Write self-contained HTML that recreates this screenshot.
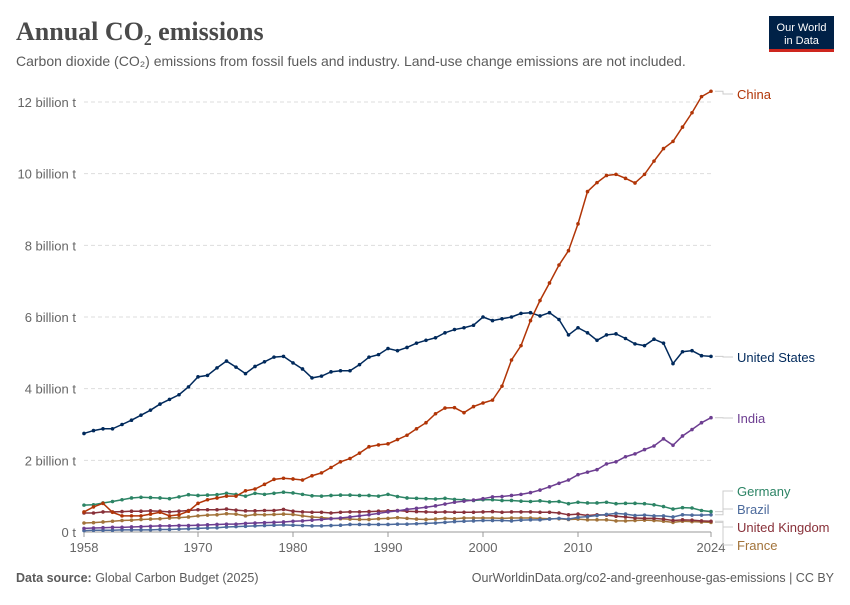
<!DOCTYPE html>
<html><head><meta charset="utf-8"><style>
body{margin:0;background:#fff;width:850px;height:600px;overflow:hidden;font-family:"Liberation Sans",sans-serif}
</style></head><body>
<svg id="chart" width="850" height="600" xmlns="http://www.w3.org/2000/svg">
<text x="16" y="40" font-family="Liberation Serif,serif" font-size="26" font-weight="bold" fill="#4a4a4a">Annual CO₂ emissions</text>
<text x="16" y="66" font-size="14" fill="#5b5b5b">Carbon dioxide (CO₂) emissions from fossil fuels and industry. Land-use change emissions are not included.</text>
<g>
<rect x="769" y="16" width="65" height="36" fill="#002147"/>
<rect x="769" y="49" width="65" height="3" fill="#ce261e"/>
<text x="801.5" y="31" text-anchor="middle" font-size="11" fill="#fff">Our World</text>
<text x="801.5" y="44" text-anchor="middle" font-size="11" fill="#fff">in Data</text>
</g>
<g id="grid"></g><g id="lines"></g><g id="labels"></g>
<text x="16" y="582" font-size="12.5" fill="#5b5b5b"><tspan font-weight="bold">Data source:</tspan> Global Carbon Budget (2025)</text>
<text x="834" y="582" text-anchor="end" font-size="12.5" fill="#5b5b5b">OurWorldinData.org/co2-and-greenhouse-gas-emissions | CC BY</text>
</svg>
<script>
const startYear=1958,endYear=2024;
const yTicks=[0,2,4,6,8,10,12];
const yTickLabels=["0 t","2 billion t","4 billion t","6 billion t","8 billion t","10 billion t","12 billion t"];
const xTicks=[1958,1970,1980,1990,2000,2010,2024];
const china=[.56,.70,.80,.55,.45,.45,.45,.50,.55,.45,.48,.58,.80,.90,.95,1.00,1.00,1.15,1.20,1.33,1.47,1.50,1.48,1.45,1.57,1.65,1.80,1.96,2.05,2.20,2.38,2.43,2.46,2.58,2.70,2.88,3.05,3.30,3.46,3.47,3.33,3.50,3.60,3.68,4.07,4.80,5.20,5.90,6.46,6.95,7.45,7.85,8.60,9.50,9.75,9.95,9.98,9.87,9.74,9.98,10.35,10.70,10.90,11.30,11.70,12.15,12.30];
const us=[2.75,2.83,2.88,2.88,3.00,3.12,3.26,3.40,3.57,3.70,3.83,4.05,4.33,4.37,4.58,4.77,4.60,4.42,4.62,4.75,4.88,4.90,4.72,4.55,4.30,4.35,4.47,4.50,4.50,4.67,4.88,4.95,5.12,5.06,5.15,5.27,5.35,5.42,5.56,5.65,5.70,5.77,6.00,5.90,5.95,6.00,6.10,6.12,6.03,6.12,5.93,5.50,5.70,5.56,5.35,5.50,5.53,5.40,5.25,5.20,5.38,5.27,4.70,5.03,5.06,4.92,4.90];
const india=[.10,.11,.12,.13,.13,.14,.15,.16,.17,.17,.18,.18,.19,.20,.21,.22,.22,.24,.25,.26,.27,.28,.30,.31,.33,.35,.37,.39,.42,.45,.48,.52,.56,.59,.63,.66,.69,.73,.78,.83,.86,.89,.93,.98,.99,1.02,1.05,1.10,1.17,1.26,1.36,1.45,1.60,1.67,1.74,1.90,1.96,2.10,2.18,2.30,2.40,2.60,2.42,2.68,2.86,3.05,3.19];
const germany=[.75,.76,.81,.85,.90,.95,.97,.96,.95,.93,.98,1.04,1.02,1.03,1.04,1.08,1.05,1.00,1.08,1.05,1.08,1.11,1.09,1.05,1.01,1.00,1.02,1.03,1.03,1.02,1.02,1.00,1.05,.99,.95,.94,.93,.92,.94,.91,.90,.88,.90,.90,.88,.88,.86,.85,.87,.84,.85,.79,.83,.81,.81,.83,.79,.80,.80,.79,.76,.71,.64,.68,.67,.60,.57];
const brazil=[.04,.05,.05,.05,.06,.06,.06,.06,.07,.07,.08,.09,.10,.11,.12,.14,.15,.16,.17,.18,.19,.20,.19,.18,.17,.17,.18,.19,.21,.21,.21,.21,.21,.22,.22,.23,.24,.25,.27,.29,.30,.31,.32,.32,.32,.31,.33,.34,.34,.36,.38,.36,.41,.43,.46,.49,.52,.50,.46,.47,.45,.45,.42,.48,.47,.47,.48];
const uk=[.53,.53,.56,.56,.57,.58,.58,.59,.58,.56,.58,.60,.62,.62,.62,.64,.61,.59,.59,.60,.60,.63,.58,.56,.55,.55,.53,.55,.56,.56,.57,.58,.59,.60,.58,.57,.56,.55,.56,.55,.55,.55,.56,.57,.55,.56,.56,.56,.55,.55,.53,.48,.50,.46,.48,.47,.44,.42,.39,.38,.38,.36,.32,.34,.33,.31,.30];
const france=[.25,.26,.28,.30,.32,.33,.35,.36,.37,.39,.40,.42,.45,.47,.48,.51,.50,.45,.49,.48,.49,.50,.49,.45,.42,.40,.38,.37,.36,.35,.35,.37,.38,.40,.38,.36,.35,.36,.38,.37,.39,.39,.39,.39,.38,.39,.39,.39,.38,.37,.37,.35,.36,.34,.34,.34,.31,.31,.32,.33,.32,.30,.27,.30,.29,.28,.27];
const seriesNames=["China","United States","India","Germany","Brazil","United Kingdom","France"];
const seriesData=[china,us,india,germany,brazil,uk,france];
const colors=["#b13507","#00295b","#6d3e91","#2c8465","#4c6a9c","#883039","#a2733a"];
const labelY=[94,357,418,491,509,527,545];
const NS="http://www.w3.org/2000/svg";
const x0=84,x1=711,y0=532,yTop=102;
const xs=y=>x0+(y-startYear)*(x1-x0)/(endYear-startYear);
const ys=v=>y0-v*(y0-yTop)/12;
function mk(tag,attrs,parent){const e=document.createElementNS(NS,tag);for(const k in attrs)e.setAttribute(k,attrs[k]);parent.appendChild(e);return e;}
const grid=document.getElementById('grid'),lines=document.getElementById('lines'),labels=document.getElementById('labels');
yTicks.forEach((t,i)=>{
 const l=mk('line',{x1:x0,x2:x1,y1:ys(t),y2:ys(t),stroke:'#ddd','stroke-dasharray':t===0?'':'4,3'},grid);
 
 
 const tx=mk('text',{x:76,y:ys(t)+5,'text-anchor':'end','font-size':13,fill:'#666'},grid);
 tx.textContent=yTickLabels[i];
 
 
});
mk('line',{x1:x0,x2:x1,y1:y0,y2:y0,stroke:'#999'},grid);
xTicks.forEach(t=>{
 mk('line',{x1:xs(t),x2:xs(t),y1:y0,y2:y0+5,stroke:'#999'},grid);
 const tx=mk('text',{x:xs(t),y:y0+20,'text-anchor':'middle','font-size':13,fill:'#666'},grid);
 tx.textContent=t;
 
 
});
for(let s=seriesData.length-1;s>=0;s--){
 const d=seriesData[s],g=mk('g',{},lines);
 
 
 mk('polyline',{points:d.map((v,i)=>xs(startYear+i)+','+ys(v)).join(' '),fill:'none',stroke:colors[s],'stroke-width':1.5},g);
 d.forEach((v,i)=>mk('circle',{cx:xs(startYear+i),cy:ys(v),r:1.8,fill:colors[s]},g));
 const ey=ys(d[d.length-1]),ly=labelY[s];
 mk('path',{d:`M${x1+4},${ey} H${x1+12} V${ly} H${x1+22}`,fill:'none',stroke:'#ccc'},labels);
 const tx=mk('text',{x:737,y:ly+5,'font-size':13,fill:colors[s]},labels);
 tx.textContent=seriesNames[s];
 
 
}
</script>
</body></html>
